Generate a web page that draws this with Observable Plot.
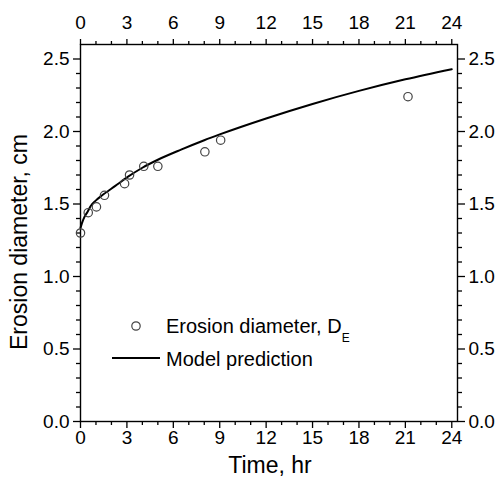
<!DOCTYPE html>
<html>
<head>
<meta charset="utf-8">
<script src="https://cdn.jsdelivr.net/npm/d3@7"></script>
<script src="https://cdn.jsdelivr.net/npm/@observablehq/plot@0.6"></script>
<style>
  html, body { margin: 0; padding: 0; background: #fff; }
  #chart { width: 499px; height: 479px; }
  svg { font-family: "Liberation Sans", Arial, Helvetica, sans-serif; }
</style>
</head>
<body>
<div id="chart"></div>
<script>
// Measured data (time in hr, erosion diameter in cm)
const obsTime = [0, 0.5, 1.03, 1.55, 2.85, 3.17, 4.09, 5.0, 8.04, 9.06, 21.17];
const obsDiam = [1.30, 1.44, 1.48, 1.56, 1.64, 1.70, 1.76, 1.76, 1.86, 1.94, 2.24];

// Model prediction curve
const modelTime = [0, 0.1, 0.25, 0.45, 0.65, 1.0, 1.4, 2.25, 3.1, 4.0, 5.0, 6.5, 8.0, 9.0, 12, 15, 18, 21, 24];
const modelDiam = [1.335, 1.37, 1.41, 1.445, 1.485, 1.525, 1.56, 1.625, 1.69, 1.75, 1.805, 1.875, 1.94, 1.98, 2.09, 2.19, 2.28, 2.36, 2.43];

// Tick values
const xMajor = [0, 3, 6, 9, 12, 15, 18, 21, 24];
const xMinor = [1, 2, 4, 5, 7, 8, 10, 11, 13, 14, 16, 17, 19, 20, 22, 23];
const yMajor = [0, 0.5, 1.0, 1.5, 2.0, 2.5];
const yMinor = [0.1, 0.2, 0.3, 0.4, 0.6, 0.7, 0.8, 0.9, 1.1, 1.2, 1.3, 1.4, 1.6, 1.7, 1.8, 1.9, 2.1, 2.2, 2.3, 2.4];

const xTitle = "Time, hr";
const yTitle = "Erosion diameter, cm";
const legendObs = "Erosion diameter, D";
const legendObsSub = "E";
const legendModel = "Model prediction";

const obs = obsTime.map((t, i) => ({t, d: obsDiam[i]}));
const model = modelTime.map((t, i) => ({t, d: modelDiam[i]}));

const fmt = d3.format(".1f");
const FS = 19;
const noText = () => "";

const plot = Plot.plot({
  width: 499,
  height: 479,
  marginLeft: 80,
  marginRight: 42,
  marginTop: 44,
  marginBottom: 58,
  style: {fontFamily: "Liberation Sans, Arial, sans-serif", color: "#000", background: "#fff", overflow: "visible"},
  x: {domain: [0, 24.37]},
  y: {domain: [0, 2.6]},
  marks: [
    Plot.axisX({anchor: "bottom", ticks: xMajor, tickSize: 7, tickPadding: 2, fontSize: FS, label: null, strokeWidth: 1.3}),
    Plot.axisX({anchor: "bottom", ticks: xMinor, tickSize: 4, tickFormat: noText, label: null, strokeWidth: 1.3}),
    Plot.axisX({anchor: "top", ticks: xMajor, tickSize: 6, tickPadding: 10, fontSize: FS, label: null, strokeWidth: 1.3}),
    Plot.axisX({anchor: "top", ticks: xMinor, tickSize: 4, tickFormat: noText, label: null, strokeWidth: 1.3}),
    Plot.axisY({anchor: "left", ticks: yMajor, tickSize: 7, tickPadding: 4, fontSize: FS, tickFormat: fmt, label: null, strokeWidth: 1.3}),
    Plot.axisY({anchor: "left", ticks: yMinor, tickSize: 4, tickFormat: noText, label: null, strokeWidth: 1.3}),
    Plot.axisY({anchor: "right", ticks: yMajor, tickSize: 7, tickPadding: 4, fontSize: FS, tickFormat: fmt, label: null, strokeWidth: 1.3}),
    Plot.axisY({anchor: "right", ticks: yMinor, tickSize: 4, tickFormat: noText, label: null, strokeWidth: 1.3}),
    Plot.frame({stroke: "#000", strokeWidth: 1.4}),
    Plot.line(model, {x: "t", y: "d", curve: "monotone-x", stroke: "#000", strokeWidth: 2}),
    Plot.dot(obs, {x: "t", y: "d", r: 4.2, stroke: "#444", strokeWidth: 1.2, fill: "none"})
  ]
});

document.getElementById("chart").appendChild(plot);

// Titles and legend
const svg = d3.select(plot);
svg.append("text")
  .attr("transform", "translate(27,242) rotate(-90)")
  .attr("text-anchor", "middle")
  .attr("font-size", 23)
  .attr("fill", "#000")
  .text(yTitle);
svg.append("text")
  .attr("x", 270).attr("y", 473)
  .attr("text-anchor", "middle")
  .attr("font-size", 23)
  .attr("fill", "#000")
  .text(xTitle);

const lg = svg.append("g").attr("font-size", 20).attr("fill", "#000").attr("text-anchor", "start");
lg.append("circle").attr("cx", 136).attr("cy", 326).attr("r", 4.2)
  .attr("fill", "none").attr("stroke", "#444").attr("stroke-width", 1.2);
const t1 = lg.append("text").attr("x", 166).attr("y", 333).attr("text-anchor", "start");
t1.append("tspan").text(legendObs);
t1.append("tspan").attr("font-size", 12).attr("dy", 9).text(legendObsSub);
lg.append("line").attr("x1", 112).attr("x2", 160).attr("y1", 358).attr("y2", 358)
  .attr("stroke", "#000").attr("stroke-width", 2);
lg.append("text").attr("x", 166).attr("y", 366).attr("text-anchor", "start").text(legendModel);
</script>
</body>
</html>
